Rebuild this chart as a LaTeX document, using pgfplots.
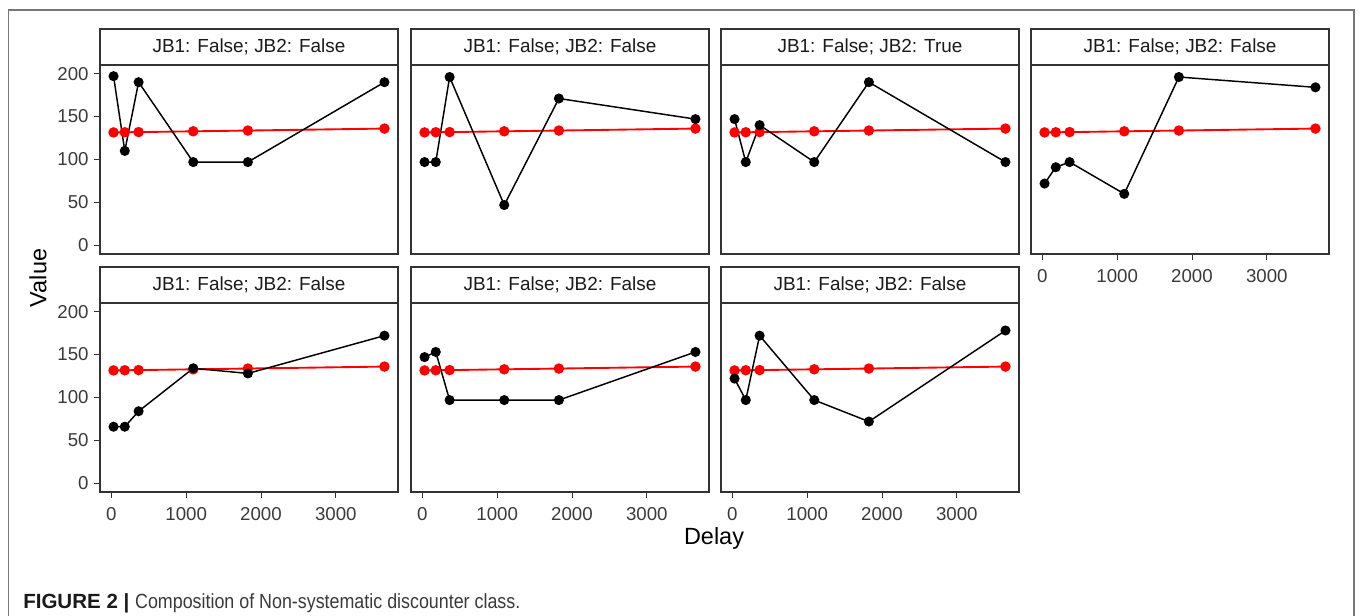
\documentclass[border=0pt]{standalone}
\usepackage{fontspec}
\setmainfont{Liberation Sans}
\usepackage{graphicx}
\usepackage{pgfplots}
\usepackage{pgfplotstable}
\pgfplotsset{compat=1.18}
\definecolor{grey20}{HTML}{333333}
\definecolor{grey30}{HTML}{3A3A3A}
\definecolor{grey10}{HTML}{1A1A1A}
\definecolor{framegray}{HTML}{777777}

\pgfplotstableread{
delay red p1 p2 p3 p4 p5 p6 p7
30   131.5 197 97  147 72  66  147 122
180  131.7 110 97  97  91  66  153 97
365  131.9 190 196 140 97  84  97  172
1095 132.8 97  47  97  60  134 97  97
1825 133.7 97  171 190 196 128 97  72
3650 136.0 190 147 97  184 172 153 178
}\data

\pgfplotsset{
  panel/.style={
    scale only axis, width=223.5pt, height=141.75pt,
    anchor=south west,
    xmin=-151, xmax=3831, ymin=-10, ymax=210,
    axis line style={grey20, line width=0.8pt},
    tick style={grey20, line width=0.7pt},
    tick align=outside, major tick length=4.2pt,
    xtick=\empty, ytick=\empty,
    xtick pos=bottom, ytick pos=left,
    scaled ticks=false,
    clip=false,
    /pgf/number format/assume math mode=true,
    /pgf/number format/1000 sep={},
    ticklabel style={font=\fontsize{14}{16}\selectfont, text=grey30},
    xticklabel style={yshift=-3.5pt},
    yticklabel style={xshift=-0.8pt},
  },
  showx/.style={xtick={0,1000,2000,3000}},
  showy/.style={ytick={0,50,100,150,200}},
}
\newcommand{\panelplots}[2]{%
  \addplot[red, line width=1.4pt, mark=*, mark size=3.2pt] table[x=delay,y=red]{\data};
  \addplot[black, line width=1.1pt, mark=*, mark size=3.2pt] table[x=delay,y=#1]{\data};
  \draw[grey20, line width=0.8pt, fill=white] (rel axis cs:0,1) rectangle ([yshift=27pt]rel axis cs:1,1);
  \node[text=grey10, font=\fontsize{14.2}{17}\selectfont] at ([yshift=13.5pt]rel axis cs:0.5,1) {#2};
}

\begin{document}
\begin{tikzpicture}
\path[use as bounding box] (0pt,0pt) rectangle (1020pt,-462pt);
\draw[framegray, line width=1.1pt] (6.25pt,-7.5pt) rectangle (1015.5pt,-490pt);

% Row 1
\begin{axis}[panel, showy, at={(75pt,-190.5pt)}]
\panelplots{p1}{JB1: False; JB2: False}
\end{axis}
\begin{axis}[panel, at={(308.25pt,-190.5pt)}]
\panelplots{p2}{JB1: False; JB2: False}
\end{axis}
\begin{axis}[panel, at={(540.75pt,-190.5pt)}]
\panelplots{p3}{JB1: False; JB2: True}
\end{axis}
\begin{axis}[panel, showx, at={(773.25pt,-190.5pt)}]
\panelplots{p4}{JB1: False; JB2: False}
\end{axis}

% Row 2
\begin{axis}[panel, showx, showy, at={(75pt,-369pt)}]
\panelplots{p5}{JB1: False; JB2: False}
\end{axis}
\begin{axis}[panel, showx, at={(308.25pt,-369pt)}]
\panelplots{p6}{JB1: False; JB2: False}
\end{axis}
\begin{axis}[panel, showx, at={(540.75pt,-369pt)}]
\panelplots{p7}{JB1: False; JB2: False}
\end{axis}

\node[rotate=90, font=\fontsize{17.6}{20}\selectfont, text=black] at (28.5pt,-208.5pt) {Value};
\node[font=\fontsize{17.6}{20}\selectfont, text=black] at (535.5pt,-403.5pt) {Delay};
\node[anchor=base west, font=\fontsize{15.4}{18}\selectfont, inner sep=0pt] at (17.25pt,-456pt)
  {\textcolor{grey10}{\textbf{FIGURE 2 |}} \textcolor{grey30}{\scalebox{0.87}[1]{Composition of Non-systematic discounter class.}}};
\end{tikzpicture}
\end{document}
